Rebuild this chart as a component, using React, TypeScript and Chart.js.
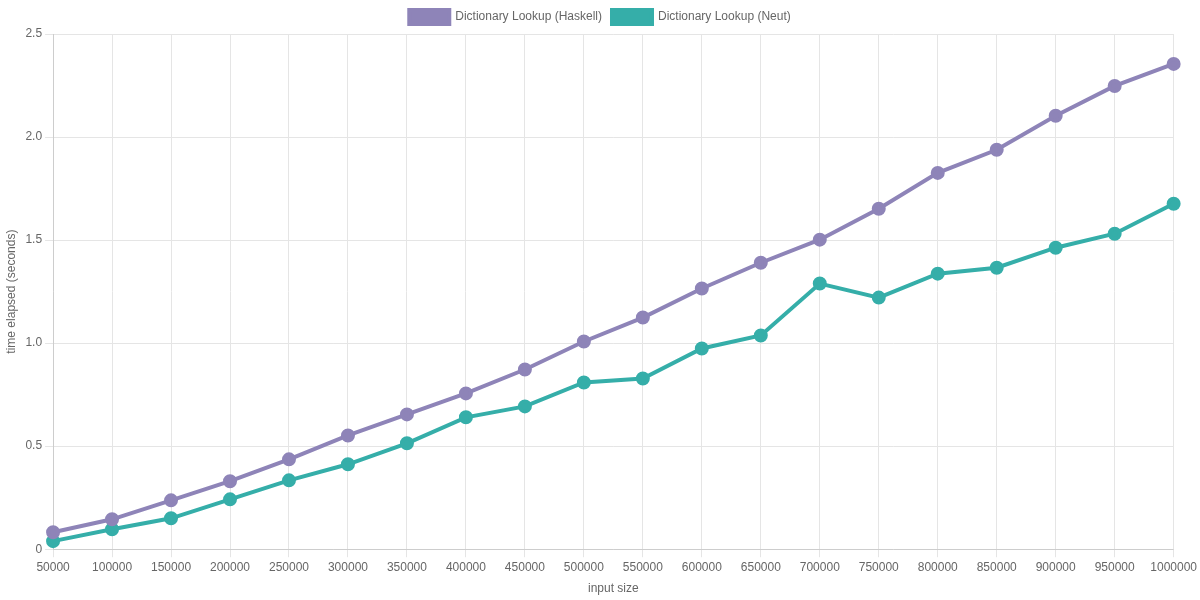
import React, { useEffect, useRef } from "react";
import Chart from "chart.js/auto";

const inputSizes = [
  50000, 100000, 150000, 200000, 250000, 300000, 350000, 400000, 450000, 500000,
  550000, 600000, 650000, 700000, 750000, 800000, 850000, 900000, 950000, 1000000,
];
const haskell = [
  0.082, 0.145, 0.237, 0.33, 0.436, 0.552, 0.654, 0.756, 0.872, 1.008,
  1.124, 1.265, 1.39, 1.502, 1.652, 1.826, 1.938, 2.103, 2.248, 2.355,
];
const neut = [
  0.039, 0.097, 0.15, 0.242, 0.334, 0.412, 0.514, 0.64, 0.693, 0.809,
  0.828, 0.974, 1.037, 1.289, 1.221, 1.337, 1.366, 1.463, 1.531, 1.676,
];

const App: React.FC = () => {
  const chartRef = useRef<HTMLCanvasElement | null>(null);

  useEffect(() => {
    document.body.style.margin = "0";
    if (!chartRef.current) return;
    const myChart = new Chart(chartRef.current, {
      type: "line",
      data: {
        labels: inputSizes.map(String),
        datasets: [
          {
            label: "Dictionary Lookup (Haskell)",
            data: haskell,
            borderColor: "#8e84b8",
            backgroundColor: "#8e84b8",
            borderWidth: 4,
            pointRadius: 5,
            tension: 0,
          },
          {
            label: "Dictionary Lookup (Neut)",
            data: neut,
            borderColor: "#35aea9",
            backgroundColor: "#35aea9",
            borderWidth: 4,
            pointRadius: 5,
            tension: 0,
          },
        ],
      },
      options: {
        animation: false,
        responsive: true,
        maintainAspectRatio: false,
        plugins: {
          legend: {
            position: "top",
            labels: { boxWidth: 40, boxHeight: 14, color: "#666", font: { size: 12 } },
          },
        },
        scales: {
          x: {
            title: { display: true, text: "input size", color: "#666" },
            ticks: { color: "#666", maxRotation: 0, autoSkip: false },
            grid: { color: "#e5e5e5" },
          },
          y: {
            min: 0,
            max: 2.5,
            title: { display: true, text: "time elapsed (seconds)", color: "#666" },
            ticks: {
              stepSize: 0.5,
              color: "#666",
              callback: (v) => (Number(v) === 0 ? "0" : Number(v).toFixed(1)),
            },
            grid: { color: "#e5e5e5" },
          },
        },
      },
    });
    return () => myChart.destroy();
  }, []);

  return (
    <div style={{ width: 1200, height: 600 }}>
      <canvas ref={chartRef} />
    </div>
  );
};

export default App;
